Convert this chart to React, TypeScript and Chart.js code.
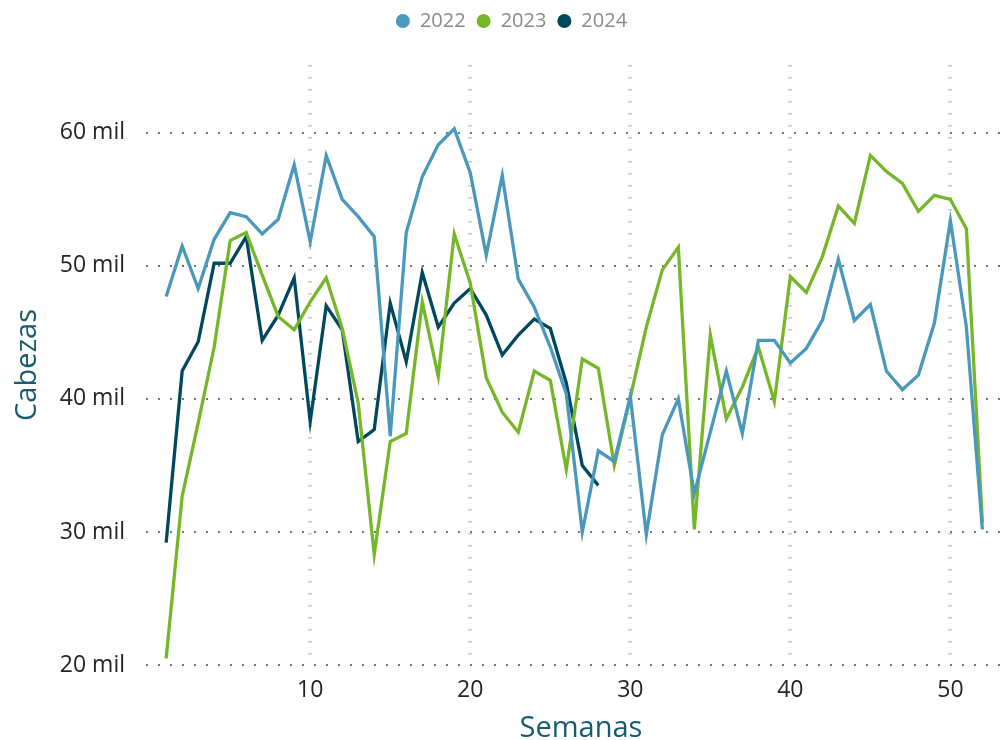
import { useEffect, useRef } from 'react';
import { Chart, registerables } from 'chart.js';

Chart.register(...registerables);

const weeks = [
  1, 2, 3, 4, 5, 6, 7, 8, 9, 10, 11, 12, 13, 14, 15, 16, 17, 18, 19, 20, 21, 22, 23, 24, 25, 26,
  27, 28, 29, 30, 31, 32, 33, 34, 35, 36, 37, 38, 39, 40, 41, 42, 43, 44, 45, 46, 47, 48, 49, 50, 51, 52,
];

const values2022 = [
  47.7, 51.5, 48.3, 52.0, 54.0, 53.7, 52.4, 53.5, 57.6, 51.8,
  58.3, 55.0, 53.7, 52.2, 37.2, 52.5, 56.7, 59.1, 60.3, 57.0,
  50.8, 56.8, 49.0, 46.9, 43.9, 40.4, 30.0, 36.1, 35.3, 40.2,
  29.8, 37.3, 40.0, 32.9, 37.5, 42.1, 37.4, 44.4, 44.4, 42.7,
  43.8, 45.9, 50.5, 45.9, 47.1, 42.1, 40.7, 41.8, 45.7, 53.4,
  45.4, 30.2,
];

const values2023 = [
  20.5, 32.7, 38.2, 43.9, 51.9, 52.5, 49.3, 46.2, 45.2, 47.3,
  49.1, 45.3, 39.7, 28.3, 36.8, 37.4, 47.3, 41.7, 52.4, 48.7,
  41.6, 39.0, 37.5, 42.1, 41.4, 34.7, 43.0, 42.3, 35.0, 40.1,
  45.4, 49.7, 51.4, 30.2, 44.8, 38.5, 40.9, 43.9, 39.8, 49.2,
  48.0, 50.7, 54.5, 53.2, 58.3, 57.1, 56.2, 54.1, 55.3, 55.0,
  52.8, 30.7,
];

const values2024 = [
  29.2, 42.1, 44.3, 50.2, 50.2, 52.2, 44.4, 46.3, 49.1, 38.3,
  47.0, 45.2, 36.8, 37.7, 47.2, 42.8, 49.5, 45.4, 47.2, 48.3,
  46.3, 43.3, 44.8, 46.0, 45.3, 41.2, 35.0, 33.5,
];

const seriesNames = ['2022', '2023', '2024'];
const seriesColors = ['#4A98BC', '#76B72A', '#00485E'];

const xTicks = [10, 20, 30, 40, 50];
const yTicks = [20, 30, 40, 50, 60];

const xTitle = 'Semanas';
const yTitle = 'Cabezas';

const TICK_FONT = { family: '"Open Sans", "Noto Sans", sans-serif', size: 23 };
const TITLE_FONT = { family: '"Open Sans", sans-serif', size: 29, lineHeight: 1 };
const TITLE_COLOR = '#175B6E';

const legendHeightPlugin = {
  id: 'legendHeight',
  beforeInit(chart: any) {
    const legend = chart.legend;
    if (!legend) return;
    const orig = legend.fit;
    legend.fit = function () {
      orig.call(this);
      this.height = 65;
    };
  },
};

// Draws the x-axis title slightly right of the plot centre, as in the reference.
const xTitlePlugin = {
  id: 'xTitle',
  afterDraw(chart: any) {
    const { ctx, chartArea } = chart;
    ctx.save();
    ctx.font = `${TITLE_FONT.size}px ${TITLE_FONT.family}`;
    ctx.fillStyle = TITLE_COLOR;
    ctx.textAlign = 'center';
    ctx.textBaseline = 'alphabetic';
    ctx.fillText(xTitle, (chartArea.left + chartArea.right) / 2 + 8, chart.height - 3);
    ctx.restore();
  },
};

export default function App() {
  const ref = useRef<HTMLCanvasElement>(null);

  useEffect(() => {
    document.body.style.margin = '0';
    const series = [values2022, values2023, values2024];
    const chart = new Chart(ref.current!, {
      type: 'line',
      data: {
        labels: weeks,
        datasets: series.map((vals, i) => ({
          label: seriesNames[i],
          data: vals,
          borderColor: seriesColors[i],
          backgroundColor: seriesColors[i],
          borderWidth: 3.3,
          pointRadius: 0,
          pointHoverRadius: 0,
          tension: 0,
          fill: false,
        })),
      },
      plugins: [legendHeightPlugin, xTitlePlugin],
      options: {
        animation: false,
        responsive: false,
        layout: { padding: { top: 0, right: 8, left: 23, bottom: 0 } },
        plugins: {
          tooltip: { enabled: false },
          legend: {
            position: 'top',
            align: 'center',
            labels: {
              usePointStyle: true,
              pointStyle: 'circle',
              pointStyleWidth: 14,
              boxHeight: 10,
              padding: 11,
              color: '#8A8A8A',
              font: { family: '"Open Sans", "Noto Sans", sans-serif', size: 20 },
              generateLabels: (c: any) =>
                Chart.defaults.plugins.legend.labels.generateLabels(c).map((l: any) => ({
                  ...l,
                  lineWidth: 0,
                  strokeStyle: 'rgba(0,0,0,0)',
                })),
            },
          },
        },
        scales: {
          x: {
            type: 'linear',
            min: -0.26,
            max: 53.1,
            afterBuildTicks: (s: any) => {
              s.ticks = xTicks.map((v) => ({ value: v }));
            },
            afterFit: (s: any) => {
              s.height = 75;
            },
            grid: { color: '#C8C8C8', lineWidth: 4, drawTicks: false },
            border: { display: false, dash: [1.5, 10.5] },
            ticks: {
              color: '#252423',
              font: TICK_FONT,
              padding: 12,
              maxRotation: 0,
              callback: (v: any) => String(v),
            },
            title: { display: false },
          },
          y: {
            type: 'linear',
            min: 20,
            max: 65.1,
            afterBuildTicks: (s: any) => {
              s.ticks = yTicks.map((v) => ({ value: v }));
            },
            afterFit: (s: any) => {
              s.width = 123;
            },
            grid: { color: '#777777', lineWidth: 2, drawTicks: false },
            border: { display: false, dash: [2, 10] },
            ticks: {
              color: '#252423',
              font: TICK_FONT,
              padding: 21,
              callback: (v: any) => `${v} mil`,
            },
            title: {
              display: true,
              text: yTitle,
              color: TITLE_COLOR,
              font: TITLE_FONT,
              padding: { top: -9.5, bottom: 0 },
            },
          },
        },
      },
    } as any);
    return () => chart.destroy();
  }, []);

  return (
    <div style={{ width: 1008, height: 740 }}>
      <canvas ref={ref} width={1008} height={740} />
    </div>
  );
}
